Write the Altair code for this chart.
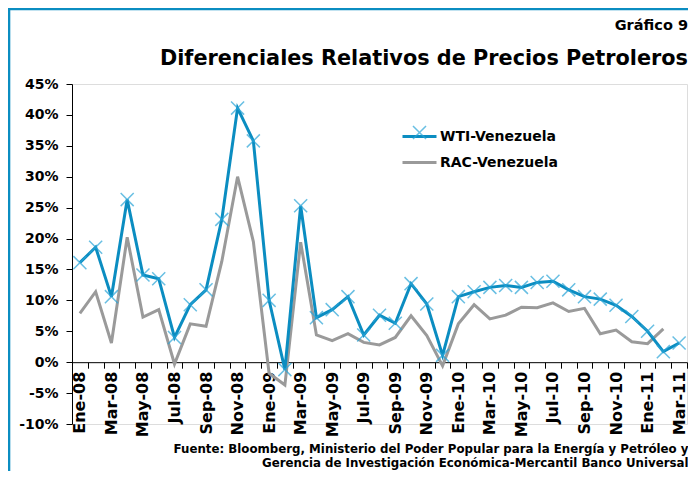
import altair as alt
import pandas as pd

categories = [
    "Ene-08", "Feb-08", "Mar-08", "Abr-08", "May-08", "Jun-08", "Jul-08", "Ago-08", "Sep-08", "Oct-08", "Nov-08", "Dic-08",
    "Ene-09", "Feb-09", "Mar-09", "Abr-09", "May-09", "Jun-09", "Jul-09", "Ago-09", "Sep-09", "Oct-09", "Nov-09", "Dic-09",
    "Ene-10", "Feb-10", "Mar-10", "Abr-10", "May-10", "Jun-10", "Jul-10", "Ago-10", "Sep-10", "Oct-10", "Nov-10", "Dic-10",
    "Ene-11", "Feb-11", "Mar-11",
]
wti = [
    16.1, 18.6, 10.6, 26.3, 14.1, 13.5, 4.0, 9.3, 11.7, 23.1, 41.1, 35.8,
    10.0, -1.2, 25.3, 7.2, 8.5, 10.6, 4.4, 7.6, 6.3, 12.7, 9.4, 1.1,
    10.6, 11.4, 12.1, 12.4, 12.1, 12.9, 13.1, 11.7, 10.6, 10.2, 9.2, 7.4,
    5.0, 1.7, 3.1,
]
rac = [
    7.9, 11.4, 3.1, 20.2, 7.3, 8.5, -0.3, 6.2, 5.8, 16.3, 30.0, 19.5,
    -1.8, -3.7, 19.4, 4.4, 3.5, 4.6, 3.2, 2.8, 4.0, 7.5, 4.3, -0.6,
    6.2, 9.3, 7.0, 7.6, 8.9, 8.8, 9.6, 8.2, 8.7, 4.6, 5.2, 3.3,
    3.0, 5.4, None,
]
series_names = ["WTI-Venezuela", "RAC-Venezuela"]
y_ticks = [-0.10, -0.05, 0.0, 0.05, 0.10, 0.15, 0.20, 0.25, 0.30, 0.35, 0.40, 0.45]
shown_months = ["Ene", "Mar", "May", "Jul", "Sep", "Nov"]
title_text = "Gráfico 9"
subtitle_text = "Diferenciales Relativos de Precios Petroleros"
source_lines = [
    "Fuente: Bloomberg, Ministerio del Poder Popular para la Energía y Petróleo y",
    "Gerencia de Investigación Económica-Mercantil Banco Universal",
]

rows = []
for c, w, r in zip(categories, wti, rac):
    rows.append({"cat": c, "series": series_names[0], "value": w / 100})
    if r is not None:
        rows.append({"cat": c, "series": series_names[1], "value": r / 100})
df = pd.DataFrame(rows)

BLUE = "#0B8DC1"
MARK_BLUE = "#2AA5D8"
GRAY = "#9A9A9A"
FONT = "DejaVu Sans"
W, H = 615, 340
PAD = {"left": 64, "top": 76, "right": 1, "bottom": 47}
Y_MIN, Y_MAX = -0.10, 0.45
zero_offset = -H * (0 - Y_MIN) / (Y_MAX - Y_MIN)

months_js = "[" + ",".join("'%s'" % m for m in shown_months) + "]"

x_enc = alt.X(
    "cat:O",
    sort=categories,
    bandPosition=0.5,
    scale=alt.Scale(type="band", paddingInner=0, paddingOuter=0),
    axis=alt.Axis(
        title=source_lines,
        titleFont=FONT,
        titleFontSize=11.8,
        titleFontWeight="bold",
        titleColor="black",
        titleAnchor="end",
        titleAlign="right",
        titleBaseline="top",
        titleX=W + 1,
        titleY=81,
        titleLineHeight=14,
        labelAngle=-90,
        labelExpr="indexof(" + months_js + ", slice(datum.label, 0, 3)) >= 0 ? datum.label : ''",
        labelFont=FONT,
        labelFontSize=16,
        labelFontWeight="bold",
        labelColor="black",
        labelPadding=3,
        labelOverlap=False,
        tickBand="extent",
        tickSize=6,
        tickColor="black",
        domainColor="black",
        offset=zero_offset,
        grid=False,
    ),
)
y_enc = alt.Y(
    "value:Q",
    scale=alt.Scale(domain=[Y_MIN, Y_MAX], nice=False, zero=False),
    axis=alt.Axis(
        title=None,
        values=y_ticks,
        labelExpr="round(datum.value * 100) + '%'",
        labelFont=FONT,
        labelFontSize=14,
        labelFontWeight="bold",
        labelColor="black",
        labelPadding=8,
        tickSize=6,
        tickColor="black",
        domainColor="black",
        grid=False,
    ),
)

color_scale = alt.Scale(domain=series_names, range=[BLUE, GRAY])
color_legend = alt.Legend(
    title=None,
    orient="none",
    legendX=329,
    legendY=34,
    symbolType="stroke",
    symbolStrokeWidth=3,
    symbolSize=1156,
    labelFont=FONT,
    labelFontSize=14,
    labelFontWeight="bold",
    labelColor="black",
    labelOffset=2,
    rowPadding=-9,
    padding=0,
)

base = alt.Chart(df)
rac_line = base.transform_filter(alt.datum.series == series_names[1]).mark_line(strokeWidth=3).encode(
    x=x_enc, y=y_enc,
    color=alt.Color("series:N", scale=color_scale, legend=color_legend),
)
wti_line = base.transform_filter(alt.datum.series == series_names[0]).mark_line(strokeWidth=3).encode(
    x=x_enc, y=y_enc,
    color=alt.Color("series:N", scale=color_scale, legend=color_legend),
)
xpath = "M-1,-1L1,1M1,-1L-1,1"
wti_pts = base.transform_filter(alt.datum.series == series_names[0]).mark_point(
    filled=False, strokeWidth=1.5, size=170, color=MARK_BLUE
).encode(
    x=x_enc, y=y_enc,
    shape=alt.Shape(
        "series:N",
        scale=alt.Scale(range=[xpath]),
        legend=alt.Legend(
            title=None,
            orient="none",
            legendX=340,
            legendY=41,
            symbolSize=170,
            symbolStrokeColor=MARK_BLUE,
            symbolFillColor="transparent",
            symbolStrokeWidth=1.5,
            labelExpr="''",
            padding=0,
        ),
    ),
)

frame_data = alt.Data(values=[{"k": 1}])
frame_left = alt.Chart(frame_data).mark_rule(color=BLUE, strokeWidth=2.6).encode(
    x=alt.value(-63), y=alt.value(-PAD["top"]), y2=alt.value(H + PAD["bottom"])
)
frame_top = alt.Chart(frame_data).mark_rule(color=BLUE, strokeWidth=2.6).encode(
    x=alt.value(-PAD["left"]), x2=alt.value(W + PAD["right"]), y=alt.value(-75)
)

chart = alt.layer(frame_left, frame_top, rac_line, wti_line, wti_pts).properties(
    width=W,
    height=H,
    padding=PAD,
    autosize=alt.AutoSizeParams(type="none"),
    title=alt.TitleParams(
        text=title_text,
        subtitle=subtitle_text,
        anchor="end",
        frame="group",
        font=FONT,
        fontSize=14.5,
        fontWeight="bold",
        color="black",
        subtitleFont=FONT,
        subtitleFontSize=20.8,
        subtitleFontWeight="bold",
        subtitleColor="black",
        subtitlePadding=15,
        offset=-63,
        dx=1,
    ),
).configure_view(stroke=None).configure(background="white")

chart.save("out.html", embed_options={"renderer": "svg", "actions": False})
